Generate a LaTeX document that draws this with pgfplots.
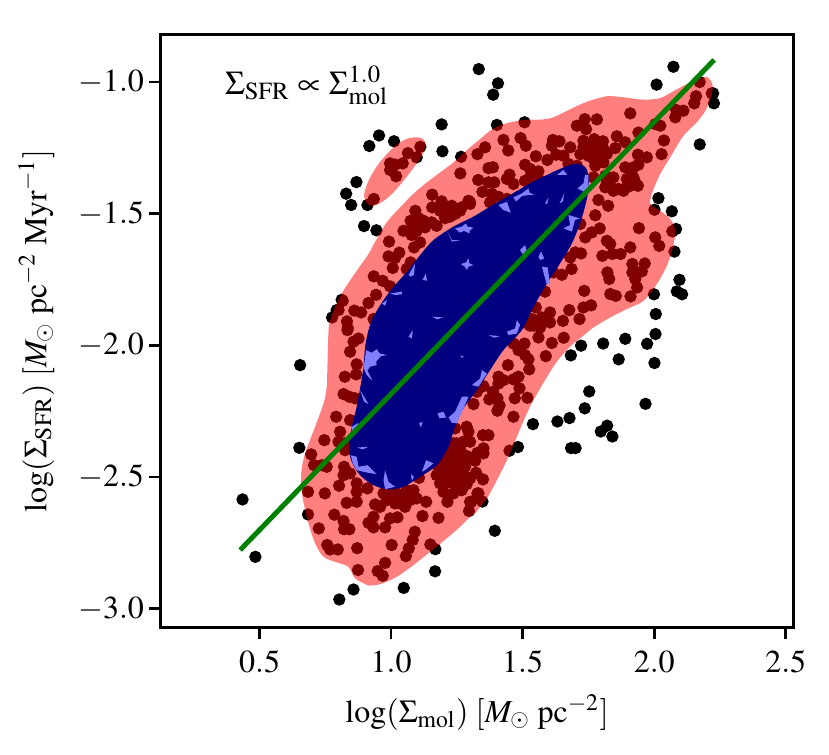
\documentclass[border=0pt]{standalone}
\usepackage{mathptmx}
\usepackage{pgfplots}
\pgfplotsset{compat=1.18}

\definecolor{darkblue}{HTML}{000080}
\definecolor{lightblue}{HTML}{8080FF}
\newcommand{\spot}[1]{\addplot[draw=none,fill=lightblue] coordinates {#1} -- cycle;}

\pgfplotstableread{
x y
1.333 -0.951
1.192 -1.161
1.195 -1.263
1.266 -1.284
0.954 -1.203
1.011 -1.225
0.917 -1.243
0.868 -1.380
0.829 -1.424
0.848 -1.467
0.910 -1.467
0.897 -1.547
0.944 -1.563
0.812 -1.827
0.7755 -1.894
0.793 -1.866
1.406 -1.005
1.388 -1.048
1.402 -1.163
1.507 -1.153
2.073 -0.942
2.009 -1.010
2.224 -1.043
2.227 -1.081
2.173 -1.237
2.016 -1.441
2.001 -1.485
2.067 -1.491
2.083 -1.558
2.069 -1.567
2.077 -1.644
2.096 -1.751
2.086 -1.795
2.106 -1.806
1.999 -1.806
2.006 -1.881
2.005 -1.957
1.973 -1.994
1.890 -1.975
1.806 -1.993
1.722 -2.001
1.683 -2.038
1.865 -2.053
2.001 -2.067
1.753 -2.175
1.736 -2.239
1.967 -2.222
1.678 -2.276
1.632 -2.289
1.539 -2.299
1.821 -2.305
1.797 -2.327
1.841 -2.346
1.482 -2.386
1.684 -2.390
1.701 -2.390
1.347 -2.593
1.394 -2.704
0.654 -2.075
0.651 -2.389
0.435 -2.585
0.484 -2.803
0.684 -2.642
0.803 -2.965
0.857 -2.927
1.048 -2.921
1.167 -2.858
1.168 -2.774
2.173 -1.000
2.219 -1.043
2.159 -1.054
2.152 -1.081
2.111 -1.109
2.083 -1.106
2.080 -1.134
1.909 -1.119
2.023 -1.166
2.004 -1.160
1.940 -1.192
2.037 -1.222
2.028 -1.274
1.972 -1.286
1.938 -1.276
1.858 -1.206
1.890 -1.229
1.852 -1.251
1.782 -1.142
1.736 -1.141
1.706 -1.166
1.741 -1.179
1.731 -1.223
1.772 -1.217
1.805 -1.225
1.744 -1.254
1.776 -1.248
1.807 -1.254
1.719 -1.274
1.750 -1.280
1.788 -1.286
1.807 -1.305
1.681 -1.248
1.640 -1.225
1.615 -1.220
1.611 -1.242
1.627 -1.276
1.594 -1.296
1.655 -1.280
1.674 -1.311
1.706 -1.318
1.550 -1.282
1.427 -1.220
1.445 -1.260
1.492 -1.213
1.512 -1.242
1.357 -1.248
1.328 -1.274
1.370 -1.327
1.387 -1.324
1.509 -1.314
1.528 -1.330
1.560 -1.339
1.560 -1.368
1.450 -1.352
1.440 -1.368
1.465 -1.387
1.509 -1.375
1.528 -1.362
1.331 -1.372
1.370 -1.381
1.392 -1.381
1.347 -1.417
1.383 -1.425
1.408 -1.436
1.376 -1.457
1.440 -1.444
1.300 -1.457
1.820 -1.375
1.845 -1.413
1.814 -1.400
1.883 -1.413
1.909 -1.394
1.938 -1.394
1.921 -1.362
1.896 -1.368
1.890 -1.324
1.921 -1.324
1.940 -1.314
1.845 -1.362
1.814 -1.356
1.769 -1.362
1.788 -1.448
1.825 -1.470
1.776 -1.506
1.942 -1.555
1.793 -1.556
1.763 -1.571
1.738 -1.590
1.719 -1.539
1.820 -1.603
1.833 -1.615
1.909 -1.628
2.004 -1.590
2.019 -1.622
1.803 -1.660
1.841 -1.653
1.872 -1.653
1.722 -1.651
1.700 -1.647
1.681 -1.666
1.917 -1.691
1.964 -1.689
1.917 -1.723
1.953 -1.719
1.822 -1.723
1.829 -1.748
1.928 -1.748
1.935 -1.780
1.686 -1.710
1.649 -1.732
1.617 -1.723
1.734 -1.793
1.585 -1.796
1.833 -1.805
1.854 -1.812
1.910 -1.814
1.550 -1.856
1.760 -1.848
1.731 -1.856
1.677 -1.866
1.604 -1.875
1.653 -1.907
1.716 -1.900
1.604 -1.913
1.573 -1.894
1.547 -1.907
1.528 -1.925
1.566 -1.932
1.509 -1.913
1.611 -1.991
1.656 -1.971
1.588 -2.041
1.560 -1.970
1.525 -2.091
1.518 -2.199
1.470 -2.201
1.488 -2.163
1.484 -2.119
1.465 -2.129
1.444 -2.075
1.408 -2.119
1.427 -2.132
1.408 -2.145
1.507 -1.993
1.465 -1.993
1.484 -2.018
1.509 -2.037
1.522 -2.053
1.465 -2.271
1.387 -2.176
1.351 -2.155
1.326 -2.176
1.404 -2.201
1.412 -2.228
1.404 -2.248
1.373 -2.205
1.313 -2.223
1.450 -2.400
1.370 -2.341
1.349 -2.341
1.351 -2.391
1.351 -2.410
1.328 -2.408
1.319 -2.438
1.323 -2.484
1.349 -2.509
1.328 -2.562
1.305 -2.594
0.834 -1.942
0.857 -1.986
0.876 -1.974
0.844 -2.024
0.869 -2.072
0.824 -2.119
0.867 -2.110
0.819 -2.185
0.841 -2.195
0.863 -2.201
0.791 -2.271
0.844 -2.284
0.806 -2.328
0.746 -2.360
0.800 -2.366
0.825 -2.372
0.825 -2.398
0.696 -2.414
0.707 -2.455
0.736 -2.455
0.755 -2.461
0.821 -2.461
0.819 -2.493
0.844 -2.486
0.869 -2.524
0.869 -2.556
0.910 -2.543
0.802 -2.533
0.684 -2.556
0.748 -2.562
0.831 -2.598
0.869 -2.594
0.939 -2.604
0.958 -2.613
1.015 -2.600
1.053 -2.613
1.072 -2.588
1.133 -2.594
0.971 -2.562
1.021 -2.562
1.059 -2.550
1.097 -2.581
0.784 -2.643
0.819 -2.667
0.821 -2.698
0.841 -2.698
0.725 -2.695
0.933 -2.651
0.914 -2.674
0.933 -2.691
0.977 -2.691
0.996 -2.657
1.024 -2.653
1.119 -2.648
1.180 -2.655
1.090 -2.708
1.082 -2.739
1.067 -2.771
1.056 -2.800
1.002 -2.758
1.149 -2.756
0.757 -2.758
0.768 -2.775
0.797 -2.775
0.871 -2.770
0.977 -2.826
0.874 -2.853
0.949 -2.857
0.968 -2.875
1.106 -2.503
1.214 -2.594
1.199 -2.556
1.237 -2.562
1.268 -2.550
1.287 -2.527
1.218 -2.518
1.186 -2.524
1.173 -2.493
1.180 -2.461
1.205 -2.436
1.224 -2.474
1.256 -2.467
1.281 -2.461
1.237 -2.423
1.262 -2.417
1.287 -2.420
1.249 -2.372
1.275 -2.366
1.300 -2.366
1.287 -2.309
1.294 -2.328
1.243 -2.315
1.319 -2.436
1.300 -2.505
1.332 -2.562
1.300 -2.594
1.296 -2.629
1.211 -2.461
1.237 -2.499
1.111 -1.246
1.097 -1.286
1.064 -1.270
0.996 -1.309
1.044 -1.309
1.015 -1.314
0.996 -1.334
1.019 -1.358
0.934 -1.444
1.263 -1.347
1.156 -1.428
1.192 -1.453
1.156 -1.476
1.294 -1.451
1.230 -1.470
1.268 -1.476
1.300 -1.463
1.211 -1.489
1.243 -1.501
1.205 -1.517
1.224 -1.511
1.092 -1.489
1.104 -1.517
1.074 -1.527
1.173 -1.546
1.154 -1.533
1.129 -1.552
1.097 -1.565
1.047 -1.565
1.078 -1.581
1.110 -1.609
1.087 -1.628
0.992 -1.606
1.031 -1.648
0.990 -1.662
1.015 -1.668
1.074 -1.685
1.006 -1.706
1.059 -1.710
0.934 -1.738
0.968 -1.755
0.996 -1.776
0.943 -1.808
0.914 -1.839
0.886 -1.875
0.860 -1.868
0.800 -1.866
0.816 -1.831
0.832 -1.909
0.835 -1.934
0.933 -1.900
1.186 -2.429
1.218 -2.448
1.249 -2.442
1.275 -2.442
1.237 -2.448
1.262 -2.391
1.237 -2.398
1.218 -2.404
1.256 -2.499
1.281 -2.499
1.237 -2.524
1.268 -2.524
1.249 -2.537
1.205 -2.493
1.199 -2.461
1.237 -2.372
1.218 -2.385
1.196 -2.505
0.983 -2.588
0.996 -2.569
1.047 -2.581
1.034 -2.600
0.990 -2.550
1.085 -2.550
1.757 -1.236
1.788 -1.229
1.763 -1.261
1.788 -1.267
1.820 -1.273
1.769 -1.292
1.801 -1.280
1.776 -1.318
1.731 -1.248
1.909 -1.362
1.928 -1.381
1.896 -1.400
1.864 -1.406
1.833 -1.394
1.541 -1.925
1.586 -1.906
1.535 -1.900
1.560 -1.913
1.186 -1.489
1.262 -1.489
1.224 -1.489
1.199 -1.470
1.085 -1.546
1.123 -1.527
}\points

\begin{document}
\begin{tikzpicture}
  \path[use as bounding box] (0,0) rectangle (248.7pt,226.5pt);
  \begin{axis}[
    at={(48.21pt,38.19pt)}, anchor=south west,
    scale only axis,
    clip mode=individual,
    width=189.8pt, height=178pt,
    xmin=0.124, xmax=2.529,
    ymin=-3.072, ymax=-0.819,
    xtick={0.5,1.0,1.5,2.0,2.5},
    ytick={-3.0,-2.5,-2.0,-1.5,-1.0},
    xtick pos=bottom, ytick pos=left,
    tick align=outside,
    major tick length=3.5pt,
    tick style={line width=0.8pt,black},
    axis line style={line width=0.8pt},
    ticklabel style={font=\fontsize{9.6}{12}\selectfont},
    xticklabel style={/pgf/number format/fixed,/pgf/number format/fixed zerofill,/pgf/number format/precision=1},
    yticklabel style={xshift=2pt,/pgf/number format/fixed,/pgf/number format/fixed zerofill,/pgf/number format/precision=1},
    xlabel={$\log(\Sigma_{\mathrm{mol}})\;[M_{\odot}\;\mathrm{pc}^{-2}]$},
    ylabel={$\log(\Sigma_{\mathrm{SFR}})\;[M_{\odot}\;\mathrm{pc}^{-2}\;\mathrm{Myr}^{-1}]$},
    label style={font=\fontsize{9.6}{12}\selectfont},
    xlabel style={yshift=0.5pt},
    ylabel style={yshift=0.3pt},
  ]
    \addplot[only marks, mark=*, mark size=1.65pt, mark options={draw=none,fill=black}] table {\points};

    % outer contour
    \addplot[smooth, draw=none, fill=red, fill opacity=0.5] coordinates {
      (0.914,-2.912) (0.863,-2.885) (0.838,-2.841) (0.793,-2.824) (0.743,-2.803)
      (0.711,-2.752) (0.686,-2.676) (0.663,-2.575) (0.658,-2.486) (0.673,-2.410)
      (0.711,-2.309) (0.743,-2.220) (0.755,-2.157) (0.758,-2.068) (0.762,-1.942)
      (0.768,-1.906) (0.787,-1.856) (0.818,-1.793) (0.869,-1.717) (0.914,-1.653)
      (0.945,-1.596) (0.983,-1.533) (1.034,-1.476) (1.097,-1.413) (1.161,-1.362)
      (1.237,-1.305) (1.300,-1.248) (1.338,-1.217) (1.376,-1.185) (1.427,-1.160)
      (1.503,-1.144) (1.566,-1.143) (1.617,-1.134) (1.681,-1.103) (1.744,-1.075)
      (1.820,-1.054) (1.883,-1.058) (1.959,-1.067) (2.023,-1.061) (2.073,-1.035)
      (2.124,-1.008) (2.175,-0.985) (2.203,-0.982) (2.221,-1.008) (2.219,-1.046)
      (2.198,-1.103) (2.162,-1.153) (2.111,-1.204) (2.061,-1.286) (2.023,-1.349)
      (1.995,-1.413) (1.985,-1.463) (2.023,-1.489) (2.061,-1.520) (2.080,-1.565)
      (2.071,-1.628) (2.048,-1.698) (2.010,-1.767) (1.959,-1.831) (1.896,-1.862)
      (1.833,-1.894) (1.769,-1.932) (1.738,-1.957) (1.680,-2.005) (1.630,-2.062)
      (1.585,-2.132) (1.541,-2.208) (1.510,-2.271) (1.478,-2.347) (1.440,-2.436)
      (1.402,-2.512) (1.364,-2.581) (1.319,-2.638) (1.300,-2.651) (1.262,-2.689)
      (1.211,-2.733) (1.148,-2.784) (1.085,-2.834) (1.021,-2.879) (0.958,-2.907)
      (0.914,-2.912)
    } -- cycle;
    % small island
    \addplot[smooth, draw=none, fill=red, fill opacity=0.5] coordinates {
      (1.097,-1.210) (1.116,-1.213) (1.129,-1.229) (1.123,-1.267) (1.091,-1.318)
      (1.047,-1.375) (0.996,-1.432) (0.945,-1.467) (0.914,-1.466) (0.897,-1.432)
      (0.914,-1.375) (0.952,-1.311) (1.009,-1.248) (1.059,-1.216) (1.097,-1.210)
    } -- cycle;
    % inner contour
    \addplot[smooth, draw=none, fill=darkblue] coordinates {
      (1.712,-1.311) (1.737,-1.322) (1.750,-1.353) (1.750,-1.410) (1.737,-1.473)
      (1.718,-1.537) (1.687,-1.613) (1.642,-1.689) (1.585,-1.777) (1.535,-1.866)
      (1.497,-1.942) (1.427,-2.018) (1.376,-2.094) (1.326,-2.170) (1.275,-2.239)
      (1.243,-2.309) (1.218,-2.385) (1.174,-2.455) (1.110,-2.499) (1.047,-2.537)
      (0.990,-2.547) (0.933,-2.531) (0.882,-2.493) (0.850,-2.442) (0.840,-2.385)
      (0.850,-2.309) (0.869,-2.233) (0.882,-2.163) (0.895,-2.081) (0.901,-2.005)
      (0.914,-1.942) (0.933,-1.891) (0.971,-1.828) (1.015,-1.771) (1.066,-1.714)
      (1.110,-1.657) (1.161,-1.600) (1.237,-1.549) (1.313,-1.511) (1.376,-1.473)
      (1.452,-1.429) (1.528,-1.385) (1.617,-1.341) (1.680,-1.315) (1.712,-1.311)
    } -- cycle;
    % gaps between the points inside the inner contour
    \spot{(1.243,-1.556) (1.269,-1.549) (1.285,-1.537) (1.290,-1.549) (1.313,-1.553) (1.298,-1.565) (1.298,-1.575) (1.277,-1.565) (1.262,-1.572)}
    \spot{(1.408,-1.467) (1.440,-1.455) (1.455,-1.496) (1.427,-1.486)}
    \spot{(1.465,-1.438) (1.497,-1.423) (1.522,-1.404) (1.526,-1.420) (1.544,-1.429) (1.516,-1.430) (1.497,-1.433) (1.475,-1.454)}
    \spot{(1.708,-1.404) (1.731,-1.385) (1.737,-1.353) (1.750,-1.353) (1.750,-1.416) (1.731,-1.416)}
    \spot{(1.265,-1.691) (1.285,-1.685) (1.294,-1.670) (1.298,-1.689) (1.313,-1.695) (1.294,-1.701) (1.288,-1.714) (1.280,-1.701)}
    \spot{(1.490,-1.638) (1.509,-1.619) (1.516,-1.644) (1.503,-1.657)}
    \spot{(1.560,-1.663) (1.570,-1.644) (1.582,-1.670) (1.566,-1.676)}
    \spot{(1.573,-1.701) (1.595,-1.704) (1.604,-1.765) (1.592,-1.771)}
    \spot{(1.674,-1.505) (1.718,-1.518) (1.699,-1.524) (1.687,-1.568) (1.655,-1.556) (1.680,-1.543)}
    \spot{(0.996,-1.803) (1.041,-1.796) (1.041,-1.806) (1.015,-1.809)}
    \spot{(1.066,-1.733) (1.091,-1.689) (1.087,-1.733) (1.075,-1.739)}
    \spot{(1.119,-1.752) (1.132,-1.727) (1.136,-1.754)}
    \spot{(1.155,-1.891) (1.199,-1.894) (1.174,-1.901)}
    \spot{(1.440,-1.948) (1.471,-1.936) (1.478,-1.904) (1.490,-1.923) (1.478,-1.955) (1.446,-1.961)}
    \spot{(1.372,-1.961) (1.414,-1.965) (1.391,-1.971)}
    \spot{(1.066,-1.967) (1.082,-1.942) (1.079,-1.974)}
    \spot{(0.965,-1.841) (0.984,-1.828) (0.977,-1.850)}
    \spot{(1.585,-1.461) (1.598,-1.438) (1.594,-1.463)}
    \spot{(1.640,-1.461) (1.658,-1.423) (1.653,-1.454)}
    \spot{(1.630,-1.353) (1.655,-1.334) (1.670,-1.353)}
    \spot{(1.214,-1.568) (1.231,-1.600) (1.265,-1.600) (1.231,-1.606)}
    \spot{(0.905,-2.018) (0.926,-2.028) (0.945,-2.015) (0.956,-2.030) (0.984,-2.037) (0.961,-2.041) (0.943,-2.062) (0.945,-2.075) (0.920,-2.081) (0.910,-2.096) (0.929,-2.134) (0.907,-2.113) (0.895,-2.087)}
    \spot{(0.882,-2.170) (0.914,-2.223) (0.897,-2.214)}
    \spot{(0.850,-2.309) (0.876,-2.294) (0.850,-2.347)}
    \spot{(0.872,-2.388) (0.914,-2.385) (0.892,-2.395)}
    \spot{(0.847,-2.417) (0.869,-2.423) (0.876,-2.461) (0.910,-2.455) (0.945,-2.489) (0.914,-2.484) (0.895,-2.480) (0.869,-2.474) (0.854,-2.448)}
    \spot{(0.977,-2.474) (0.990,-2.518) (1.015,-2.537) (0.977,-2.546) (0.971,-2.512)}
    \spot{(1.075,-2.489) (1.087,-2.499) (1.079,-2.514)}
    \spot{(1.117,-2.480) (1.133,-2.436) (1.161,-2.448) (1.129,-2.474)}
    \spot{(1.176,-2.258) (1.199,-2.252) (1.209,-2.274) (1.184,-2.277)}
    \spot{(1.218,-2.274) (1.243,-2.252) (1.269,-2.195) (1.294,-2.195) (1.275,-2.239) (1.250,-2.296) (1.231,-2.294)}
    \spot{(1.307,-2.151) (1.338,-2.126) (1.345,-2.094) (1.364,-2.107) (1.332,-2.157)}
    \spot{(1.106,-2.296) (1.119,-2.290) (1.114,-2.312)}
    \spot{(1.262,-2.038) (1.277,-2.043) (1.269,-2.047)}

    \addplot[color={rgb,255:red,0;green,128;blue,0}, line width=1.5pt] coordinates {(0.426,-2.777) (2.228,-0.916)};

    \node[anchor=base west, inner sep=0pt, font=\fontsize{10}{12}\selectfont] at (axis cs:0.366,-1.046)
      {$\Sigma_{\mathrm{SFR}}\propto\Sigma_{\mathrm{mol}}^{1.0}$};
  \end{axis}
\end{tikzpicture}
\end{document}
